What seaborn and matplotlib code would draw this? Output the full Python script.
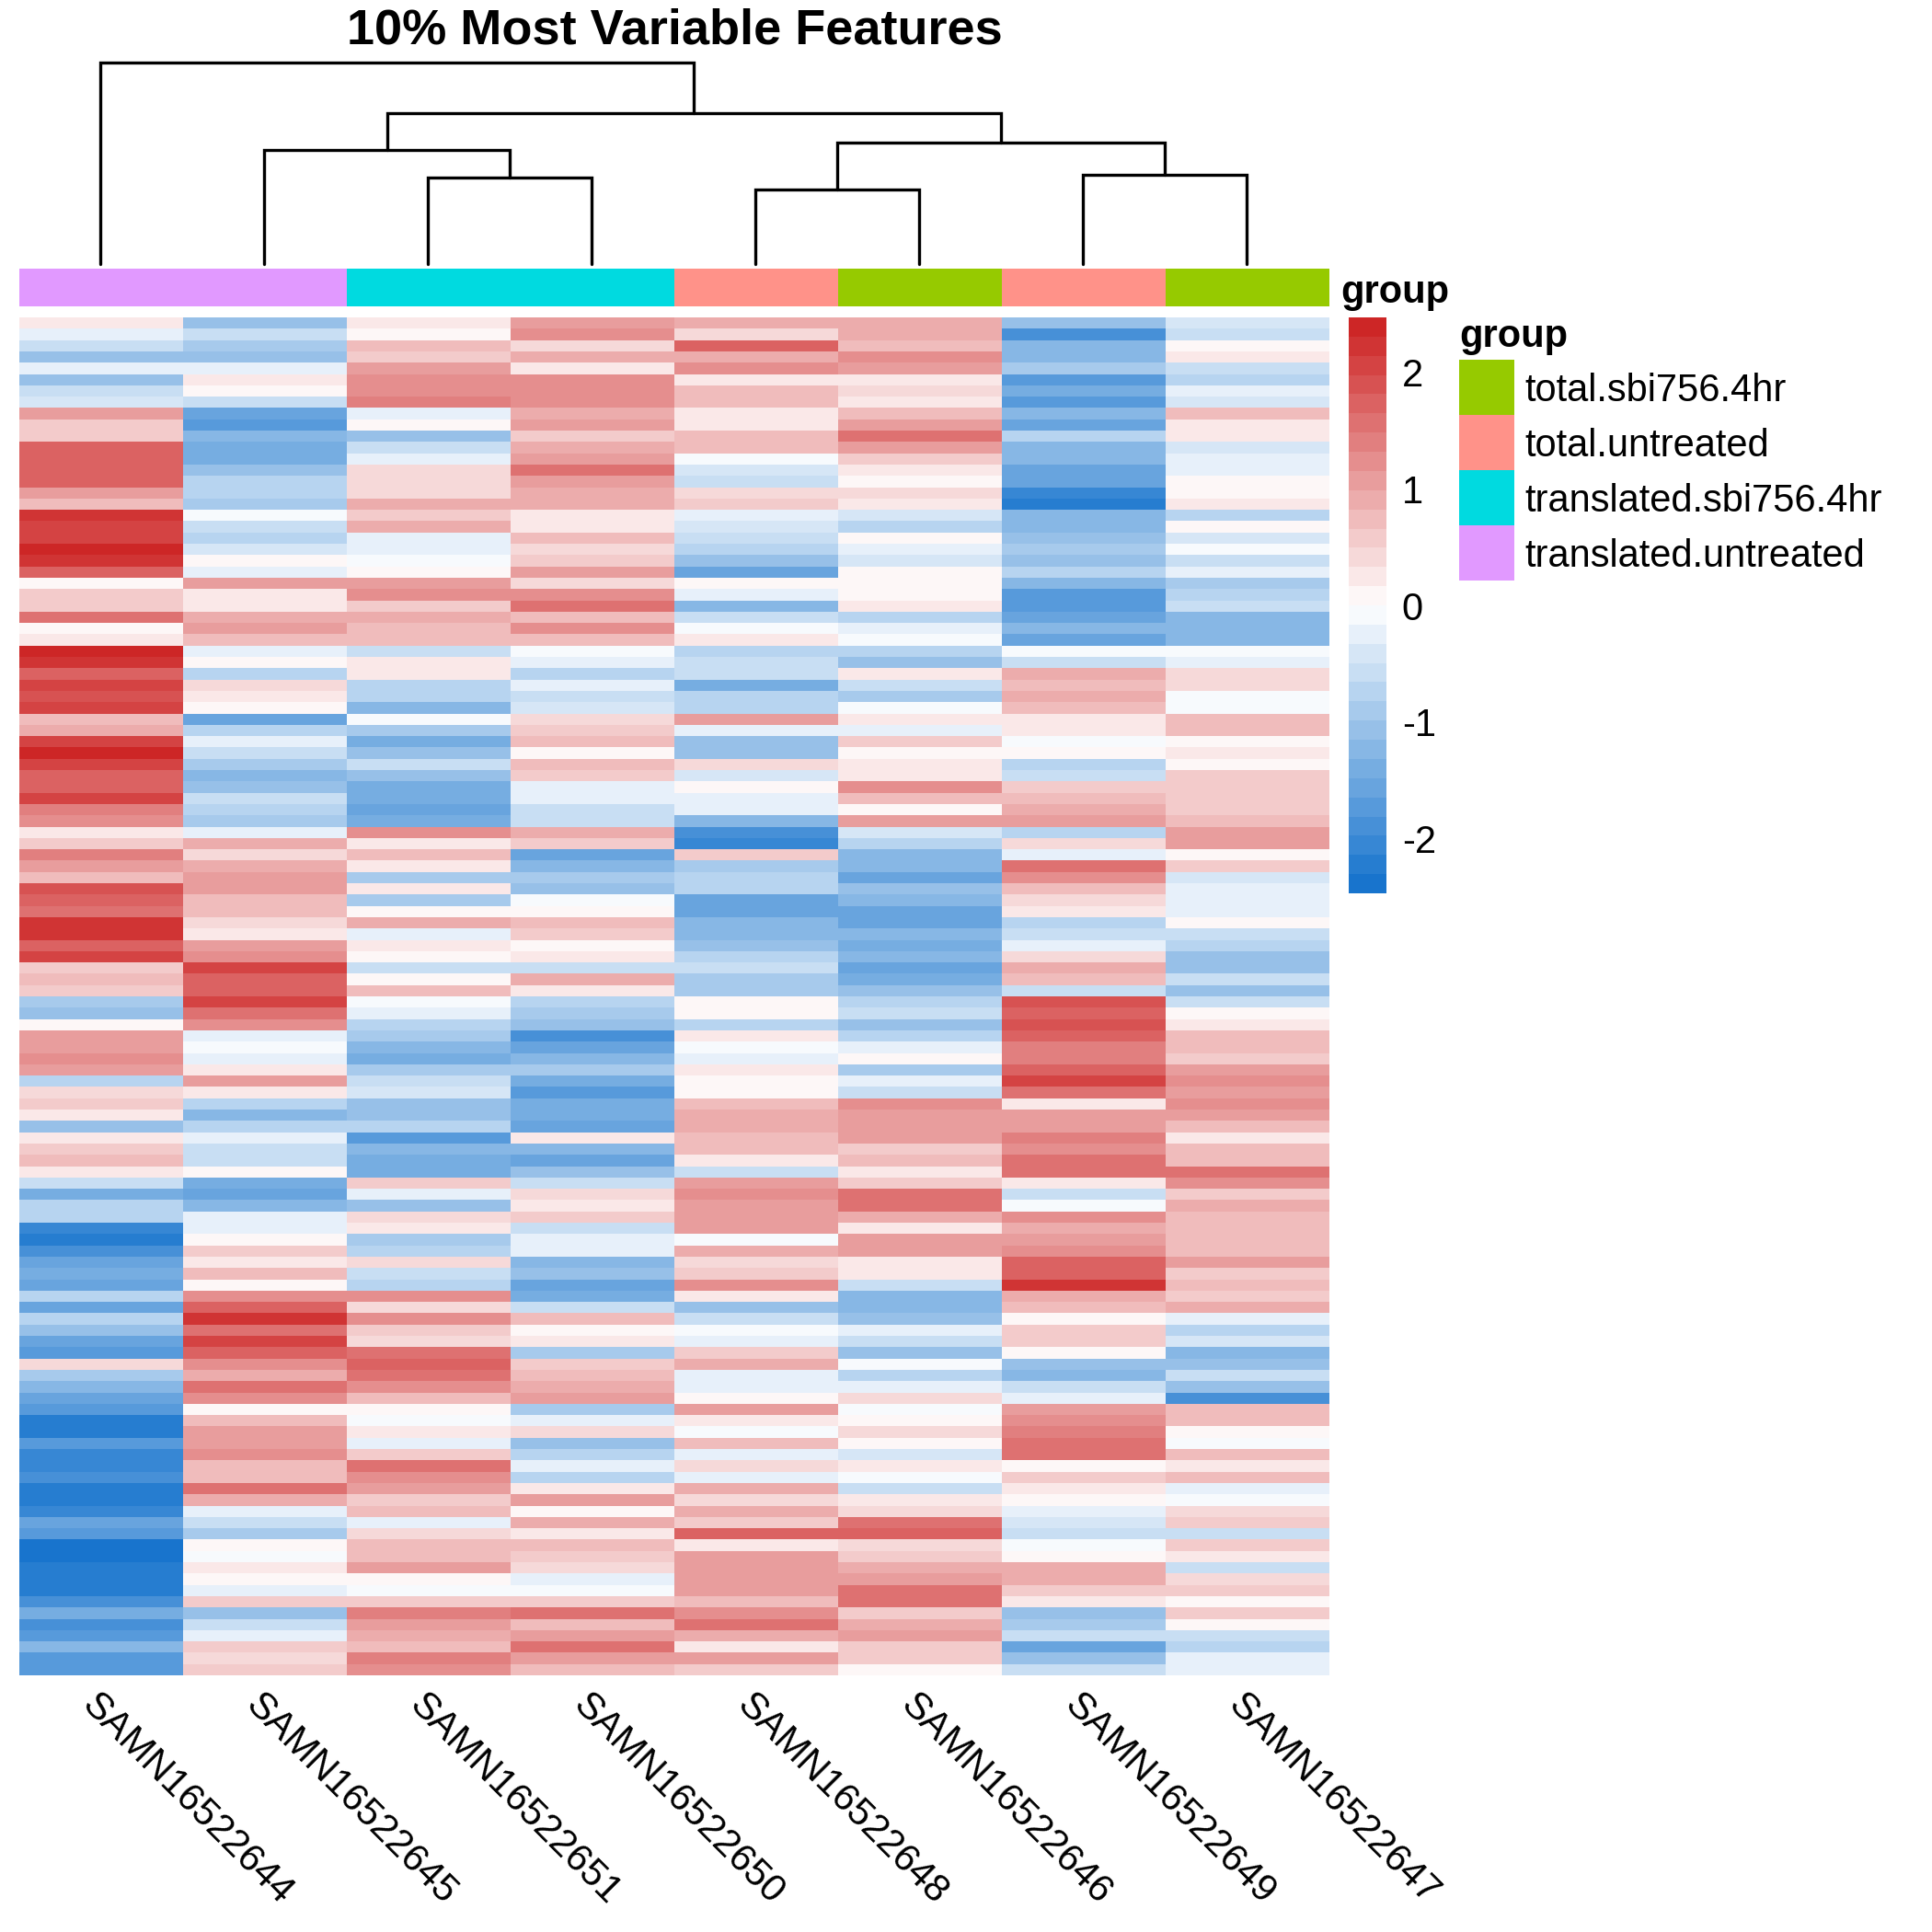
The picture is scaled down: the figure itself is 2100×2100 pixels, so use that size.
"""Heatmap of the most variable features, laid out like a pheatmap figure."""
import matplotlib
import matplotlib.pyplot as plt
import pandas as pd
import seaborn as sns
from matplotlib.colors import LinearSegmentedColormap, ListedColormap

matplotlib.use("Agg")

TITLE = "10% Most Variable Features"
SAMPLES = ["SAMN16522644", "SAMN16522645", "SAMN16522651", "SAMN16522650",
           "SAMN16522648", "SAMN16522646", "SAMN16522649", "SAMN16522647"]
GROUP_NAMES = ["total.sbi756.4hr", "total.untreated", "translated.sbi756.4hr", "translated.untreated"]
GROUP_COLORS = ["#96CA00", "#FF9289", "#00DAE0", "#E199FF"]
SAMPLE_GROUPS = [3, 3, 2, 2, 1, 0, 1, 0]
CBAR_TICKS = [-2, -1, 0, 1, 2]
VMAX = 2.47

# left member, right member, height (leaves are 0-7, new nodes count on from 8)
MERGES = [(2, 3, 42.9), (1, 8, 56.4), (4, 5, 36.8), (6, 7, 44.2),
          (10, 11, 60.1), (9, 12, 74.8), (0, 13, 100.0)]

# scaled values, top to bottom
S644 = [0.2, -0.3, -0.5, -1.1, -0.3, -1.1, -0.5, -0.4, 1.1, 0.6, 0.5, 1.7, 1.7, 1.8, 1.7, 1.0, 0.8, 2.3, 2.0, 2.0, 2.4, 2.2, 1.7, 0.1, 0.6, 0.6, 1.5, 0.1, 0.3, 2.4, 2.3, 1.8, 2.1, 1.9,
        2.1, 0.7, 0.9, 2.0, 2.4, 2.0, 1.8, 1.7, 2.0, 1.4, 1.3, 0.3, 0.6, 1.4, 1.0, 0.8, 1.9, 1.7, 1.5, 2.3, 2.3, 1.8, 2.0, 0.5, 0.7, 0.5, -0.9, -1.1, 0.1, 1.0, 1.0, 1.2, 1.0, -0.7,
        0.4, 0.6, 0.3, -1.1, 0.3, 0.5, 0.7, 0.3, -0.6, -1.4, -0.8, -0.7, -2.0, -2.2, -1.9, -1.6, -1.4, -1.5, -0.8, -1.5, -0.7, -1.0, -1.6, -1.8, 0.4, -0.9,
        -1.2, -1.5, -1.8, -2.3, -2.2, -1.8, -2.0, -2.1, -1.9, -2.2, -2.3, -2.0, -1.6, -1.7, -2.4, -2.4, -2.2, -2.3, -2.3, -1.9, -1.4, -1.9, -1.8, -1.3, -1.8, -1.8]
S645 = [-1.0, -0.6, -0.9, -1.0, -0.3, 0.3, 0.0, -0.6, -1.6, -1.8, -1.3, -1.4, -1.4, -1.0, -0.8, -0.8, -0.9, -0.1, -0.6, -0.8, -0.4, 0.1, -0.2, 1.0, 0.3, 0.2, 0.9, 1.0, 0.7, -0.2, 0.1, -0.8, 0.4, 0.2,
        0.1, -1.6, -0.8, -0.3, -0.5, -0.9, -1.2, -1.1, -0.5, -0.7, -0.9, -0.2, 0.9, 0.4, 0.9, 1.0, 1.0, 0.7, 0.7, 0.4, 0.3, 1.0, 1.3, 2.0, 1.8, 1.8, 2.1, 1.6, 1.3, -0.2, -0.1, -0.3, 0.3, 1.0,
        0.3, -0.7, -1.2, -0.7, -0.2, -0.6, -0.5, 0.1, -1.4, -1.6, -1.3, -0.2, -0.2, 0.1, 0.5, 0.3, 0.8, 0.0, 1.2, 1.7, 2.3, 1.6, 2.0, 1.7, 1.2, 0.9,
        1.5, 1.2, 0.1, 0.8, 1.1, 1.1, 1.3, 0.7, 0.7, 1.5, 0.9, -0.3, -0.5, -0.9, 0.0, -0.1, 0.3, 0.1, -0.2, 0.6, -1.0, -0.5, -0.2, 0.6, 0.4, 0.5]
S651 = [0.3, 0.1, 0.8, 0.6, 1.0, 1.2, 1.2, 1.4, -0.3, 0.0, -1.0, -0.6, -0.3, 0.4, 0.4, 0.4, 0.9, 0.5, 0.9, -0.2, -0.2, -0.1, 0.0, 1.0, 1.2, 0.6, 0.9, 0.8, 0.7, -0.6, 0.2, 0.2, -0.8, -0.8,
        -1.2, -0.1, -0.9, -1.4, -1.0, -0.6, -1.0, -1.4, -1.4, -1.5, -1.4, 1.3, 0.3, 0.7, 0.3, -0.9, 0.2, -0.9, 0.0, 0.9, -0.3, 0.3, 0.0, -0.5, 0.1, 0.7, -0.1, -0.2, -0.7, -0.9, -1.3, -1.4, -0.9, -0.6,
        -0.4, -1.0, -1.1, -0.7, -1.7, -1.2, -1.4, -1.4, 0.5, -0.3, -1.0, 0.4, 0.2, -0.9, -0.7, 0.4, -0.5, -0.7, 1.2, 0.4, 1.2, 0.6, 0.4, 1.6, 1.7, 1.6,
        1.2, 0.8, 0.0, -0.1, 0.3, -0.2, 0.6, 1.6, 1.2, 1.0, 0.6, 0.7, -0.2, 0.4, 0.7, 0.8, 1.0, 0.1, -0.1, 0.5, 1.4, 1.0, 0.9, 0.8, 1.4, 1.2]
S650 = [1.0, 1.2, 0.4, 0.9, 0.3, 1.3, 1.3, 1.3, 0.9, 1.0, 0.5, 0.9, 1.1, 1.5, 1.1, 0.9, 0.9, 0.2, 0.3, 0.8, 0.4, 0.6, 1.1, 0.4, 1.2, 1.5, 0.7, 1.3, 0.8, -0.1, -0.3, -0.7, -0.3, -0.5,
        -0.4, 0.4, 0.5, 0.8, 0.1, 0.8, 0.5, -0.3, -0.2, -0.6, -0.6, 0.9, 0.5, -1.5, -1.2, -0.9, -1.0, -0.1, 0.1, 0.7, 0.5, 0.0, 0.2, -0.6, 0.9, 0.2, -0.8, -0.9, -1.1, -1.9, -1.6, -1.2, -0.9, -1.4,
        -1.7, -1.4, -1.4, -1.6, 0.2, -1.2, -1.5, -1.0, -0.6, 0.4, 0.2, 0.6, -0.6, -0.2, -0.3, -1.3, -1.1, -1.5, -1.4, -0.5, 0.7, 0.1, 0.3, -0.9, 0.5, 0.7,
        0.9, 1.1, -0.9, -0.2, 0.4, -1.0, -0.8, -0.3, -0.8, 0.2, 1.0, 0.1, 0.9, 0.2, 0.8, 0.6, 0.4, -0.3, -0.1, 0.6, 1.6, 0.8, 1.0, 1.5, 1.0, 0.7]
S648 = [0.9, 0.4, 1.7, 0.9, 1.2, 0.3, 0.8, 0.7, 0.3, 0.2, 0.8, 0.7, -0.1, -0.4, -0.6, 0.4, 0.6, -0.3, -0.4, -0.5, -0.8, -1.0, -1.5, 0.0, -0.2, -1.2, -0.6, -0.1, 0.3, -0.8, -0.5, -0.6, -1.4, -0.8,
        -0.8, 1.0, -0.3, -1.1, -1.0, 0.4, -0.4, 0.1, -0.2, -0.2, -1.2, -1.9, -2.1, 0.5, -0.9, -0.8, -0.7, -1.5, -1.6, -1.2, -1.2, -1.0, -0.8, -0.5, -0.9, -0.9, 0.1, 0.1, -0.8, 0.3, -0.1, -0.3, 0.2, 0.1,
        0.1, 0.8, 0.9, 0.9, 0.8, 0.7, 0.2, -0.6, 1.0, 1.3, 1.0, 1.0, 1.0, -0.1, 0.9, 0.4, 0.5, 1.2, 0.2, -1.1, -0.6, -0.1, -0.2, 0.5, 0.9, -0.3,
        -0.2, 0.1, 1.0, 0.2, -0.1, 0.7, -0.3, 0.4, -0.3, 0.9, 0.4, 0.9, 0.6, 1.7, 0.3, 1.0, 1.0, 1.0, 1.0, 0.7, 1.2, 1.5, 0.9, 0.2, 1.0, 0.6]
S646 = [0.9, 0.9, 0.7, 1.2, 1.0, 0.3, 0.4, 0.3, 0.8, 1.1, 1.6, 1.0, 0.6, 0.2, 0.1, 0.4, 0.2, -0.4, -0.7, 0.1, -0.2, -0.4, 0.0, 0.1, 0.1, 0.3, -0.8, -0.2, -0.1, -0.7, -1.0, 0.2, -0.6, -0.9,
        -0.1, 0.2, -0.3, 0.6, 0.0, 0.3, 0.3, 1.3, 0.7, 0.1, 1.0, -0.4, -0.8, -1.2, -1.3, -1.6, -1.1, -1.2, -1.5, -1.5, -1.3, -1.4, -1.2, -1.6, -1.4, -1.1, -0.8, -0.6, -1.1, -0.7, -0.3, 0.0, -0.9, -0.3,
        -0.5, 1.2, 1.0, 1.0, 1.0, 0.5, 0.7, 0.2, 0.6, 1.5, 1.6, 0.9, 0.2, 1.1, 1.0, 0.3, 0.3, -0.5, -1.2, -1.3, -1.1, -0.3, -0.6, -1.1, -0.1, -0.7,
        -0.3, 0.4, -0.1, 0.0, 0.4, 0.1, -0.4, 0.2, -0.1, -0.5, 0.2, 0.4, 1.6, 1.7, 0.4, 0.6, 0.9, 1.0, 1.6, 1.6, 0.6, 0.9, 1.1, 0.5, 0.5, 0.1]
S649 = [-1.0, -1.9, -1.2, -1.3, -0.9, -1.7, -1.4, -1.8, -1.2, -1.5, -0.7, -1.2, -1.3, -1.6, -1.6, -2.0, -2.2, -1.2, -1.2, -1.1, -0.9, -1.0, -0.8, -1.3, -1.8, -1.7, -1.6, -1.2, -1.6, -0.1, -0.5, 0.9, 0.7, 0.9,
        0.8, 0.2, 0.3, -0.1, 0.1, -0.8, -0.5, 0.5, 0.7, 0.9, 1.0, -0.7, 0.4, -0.2, 1.5, 1.2, 0.7, 0.4, 0.3, -0.7, -0.6, -0.2, 0.4, 0.9, 0.8, -0.5, 1.9, 1.7, 1.9, 1.8, 1.4, 1.4, 1.7, 2.0,
        1.5, 0.2, 1.0, 1.1, 1.4, 1.3, 1.5, 1.5, 0.3, -0.6, -0.1, 1.3, 0.9, 1.1, 1.2, 1.8, 1.8, 2.2, 0.9, 0.8, 0.0, 0.5, 0.6, 0.0, -1.0, -1.2,
        -0.5, -0.2, 1.0, 1.2, 1.4, 1.6, 1.5, 0.0, 0.5, 0.3, 0.0, -0.2, -0.4, -0.5, -0.1, 0.0, 0.9, 0.9, 0.5, 0.3, -1.1, -0.9, -0.6, -1.5, -1.0, -0.6]
S647 = [-0.4, -0.5, 0.1, 0.3, -0.5, -0.7, -0.3, -0.4, 0.7, 0.3, 0.3, -0.4, -0.2, -0.3, 0.1, 0.0, 0.3, -0.7, 0.1, -0.4, -0.1, -0.6, -0.2, -0.9, -0.7, -0.5, -1.2, -1.2, -1.3, -0.1, -0.2, 0.4, 0.4, -0.1,
        -0.1, 0.7, 0.7, 0.0, 0.2, 0.1, 0.5, 0.6, 0.5, 0.6, 0.8, 1.0, 1.0, 0.1, 0.6, -0.4, -0.2, -0.3, -0.2, 0.0, -0.6, -0.7, -1.0, -1.1, -0.6, -1.0, -0.5, 0.0, 0.2, 0.7, 0.8, 0.6, 1.0, 1.2,
        1.0, 1.3, 1.1, 0.7, 0.2, 0.8, 0.8, 1.5, 1.3, 0.5, 0.9, 0.7, 0.8, 0.8, 0.8, 1.1, 0.6, 0.7, 0.6, 0.9, -0.3, -0.8, -0.4, -1.2, -1.1, -0.5,
        -1.0, -1.9, 0.8, 0.7, 0.0, -0.1, 0.7, 0.3, 0.7, -0.3, -0.1, 0.4, 0.6, -0.5, 0.5, 0.3, -0.6, 0.4, 0.5, 0.0, 0.6, 0.1, -0.5, -0.8, -0.2, -0.3]
COLUMNS = [S644, S645, S651, S650, S648, S646, S649, S647]

FIG_PX = 2100


def box(left, top, right, bottom):
    """Axes rectangle from pixel edges, y counted from the top."""
    return [left / FIG_PX, 1 - bottom / FIG_PX, (right - left) / FIG_PX, (bottom - top) / FIG_PX]


def draw_dendrogram(ax):
    pos = {i: (i + 0.5, 0.0) for i in range(len(SAMPLES))}
    for n, (a, b, h) in enumerate(MERGES, start=len(SAMPLES)):
        xa, ya = pos[a]
        xb, yb = pos[b]
        ax.plot([xa, xa, xb, xb], [ya, h, h, yb], color="black", lw=0.8, solid_joinstyle="miter", clip_on=False)
        pos[n] = ((xa + xb) / 2, h)
    ax.set_xlim(0, len(SAMPLES))
    ax.set_ylim(0, 100)
    ax.axis("off")


sns.set_theme(style="white")
plt.rcParams["font.family"] = ["Liberation Sans", "DejaVu Sans"]
plt.rcParams["axes.unicode_minus"] = False

fig = plt.figure(figsize=(7, 7), dpi=300)

ax_tree = fig.add_axes(box(20, 68, 1444, 287))
draw_dendrogram(ax_tree)

ramp = LinearSegmentedColormap.from_list("ramp", ["#1874CD", "#FFFFFF", "#CD2626"])
cmap = ListedColormap([ramp(i / 29) for i in range(30)])

ax_ann = fig.add_axes(box(21, 292, 1445, 333))
sns.heatmap(pd.DataFrame([SAMPLE_GROUPS]), ax=ax_ann, cmap=ListedColormap(GROUP_COLORS),
            vmin=-0.5, vmax=3.5, cbar=False, xticklabels=False, yticklabels=False)

ax_heat = fig.add_axes(box(21, 345, 1445, 1821))
ax_cbar = fig.add_axes(box(1466, 345, 1507, 971))
data = pd.DataFrame(dict(zip(SAMPLES, COLUMNS)))
sns.heatmap(data, ax=ax_heat, cmap=cmap, vmin=-VMAX, vmax=VMAX, cbar_ax=ax_cbar,
            cbar_kws={"ticks": CBAR_TICKS}, xticklabels=False, yticklabels=False)
ax_cbar.tick_params(length=0, labelsize=10, pad=4, colors="black")
ax_heat.collections[0].colorbar.outline.set_visible(False)

for i, name in enumerate(SAMPLES):
    ax_heat.annotate(name, xy=(i + 0.5, 0), xycoords=("data", "axes fraction"), xytext=(-15, -26),
                     textcoords="offset pixels", rotation=-45, rotation_mode="anchor",
                     ha="left", va="center", fontsize=10, color="black")

fig.text(733 / FIG_PX, 1 - 34 / FIG_PX, TITLE, ha="center", va="center", fontsize=13, fontweight="bold", color="black")
fig.text(1457 / FIG_PX, 1 - 318 / FIG_PX, "group", ha="left", va="center", fontsize=10, fontweight="bold", color="black")
fig.text(1586 / FIG_PX, 1 - 366 / FIG_PX, "group", ha="left", va="center", fontsize=10, fontweight="bold", color="black")

ax_leg = fig.add_axes(box(1586, 391, 1646, 631))
sns.heatmap(pd.DataFrame({"group": range(len(GROUP_NAMES))}), ax=ax_leg, cmap=ListedColormap(GROUP_COLORS),
            vmin=-0.5, vmax=3.5, cbar=False, xticklabels=False, yticklabels=False)
for i, name in enumerate(GROUP_NAMES):
    ax_leg.annotate(name, xy=(1, i + 0.5), xycoords=("axes fraction", "data"), xytext=(11, -4),
                    textcoords="offset pixels", ha="left", va="center", fontsize=10, color="black")

fig.savefig("out.png", dpi=300)
plt.close(fig)
